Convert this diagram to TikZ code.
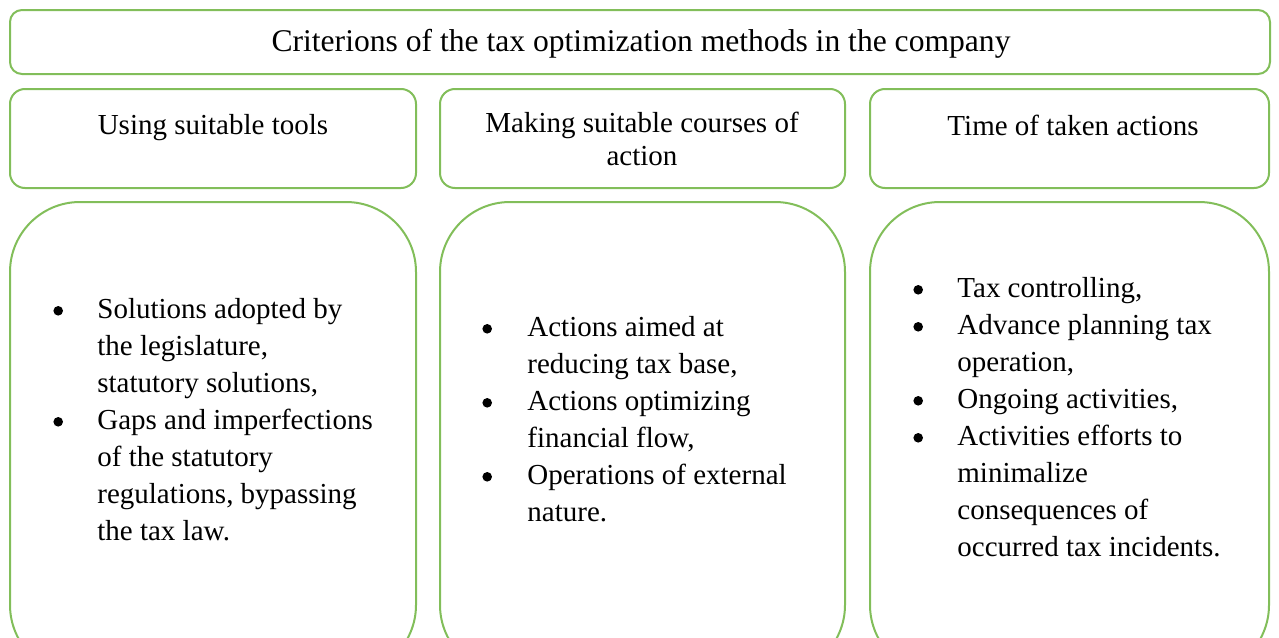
\documentclass[tikz,border=0pt]{standalone}
\usepackage{fontspec}
\setmainfont{Liberation Serif}
\usepackage{array}
\definecolor{boxgreen}{RGB}{130,190,90}
\newcommand\itemdot{\tikz[baseline=-3.6pt]\fill (0,0) circle (2.4pt);}

\begin{document}
\begin{tikzpicture}[x=0.5pt,y=-0.5pt,
    box/.style={draw=boxgreen,line width=1pt,inner sep=0pt},
    headtext/.style={inner sep=0pt,align=center,font=\fontsize{14.5}{16.5}\selectfont},
    listtext/.style={inner sep=0pt,anchor=base west,font=\fontsize{14.5}{18.5}\selectfont}]
    % page frame, the lower boxes run past the bottom edge
    \clip (0,0) rectangle (1279,637);

    % title box
    \node[box,rounded corners=6pt,minimum width=630pt,minimum height=32pt] (titleBox) at (640,42) {};
    \node[headtext,font=\fontsize{15.8}{18}\selectfont] (titleText) at (641,44) {Criterions of the tax optimization methods in the company};

    % criterion headers
    \node[box,rounded corners=7.5pt,minimum width=203pt,minimum height=49.5pt] (toolsBox) at (213,138.5) {};
    \node[box,rounded corners=7.5pt,minimum width=202.5pt,minimum height=49.5pt] (coursesBox) at (642.5,138.5) {};
    \node[box,rounded corners=7.5pt,minimum width=199.5pt,minimum height=49.5pt] (timeBox) at (1069.5,138.5) {};
    \node[headtext] (toolsText) at (213,128) {Using suitable tools};
    \node[headtext] (coursesText) at (642,139) {Making suitable courses of\\action};
    \node[headtext] (timeText) at (1073,125) {Time of taken actions};

    % lists below the headers
    \node[box,rounded corners=35pt,minimum width=203pt,minimum height=236.5pt] (toolsList) at (213,438.5) {};
    \node[box,rounded corners=35pt,minimum width=202.5pt,minimum height=236.5pt] (coursesList) at (642.5,438.5) {};
    \node[box,rounded corners=35pt,minimum width=199.5pt,minimum height=236.5pt] (timeList) at (1069.5,438.5) {};

    \node[listtext] (toolsItems) at (53,318) {\begin{tabular}[t]{@{}p{22pt}@{}l@{}}
        \itemdot & Solutions adopted by\\
        & the legislature,\\
        & statutory solutions,\\
        \itemdot & Gaps and imperfections\\
        & of the statutory\\
        & regulations, bypassing\\
        & the tax law.
    \end{tabular}};
    \node[listtext] (coursesItems) at (482,336) {\begin{tabular}[t]{@{}p{22.5pt}@{}l@{}}
        \itemdot & Actions aimed at\\
        & reducing tax base,\\
        \itemdot & Actions optimizing\\
        & financial flow,\\
        \itemdot & Operations of external\\
        & nature.
    \end{tabular}};
    \node[listtext] (timeItems) at (913,297) {\begin{tabular}[t]{@{}p{22pt}@{}l@{}}
        \itemdot & Tax controlling,\\
        \itemdot & Advance planning tax\\
        & operation,\\
        \itemdot & Ongoing activities,\\
        \itemdot & Activities efforts to\\
        & minimalize\\
        & consequences of\\
        & occurred tax incidents.
    \end{tabular}};
\end{tikzpicture}
\end{document}
